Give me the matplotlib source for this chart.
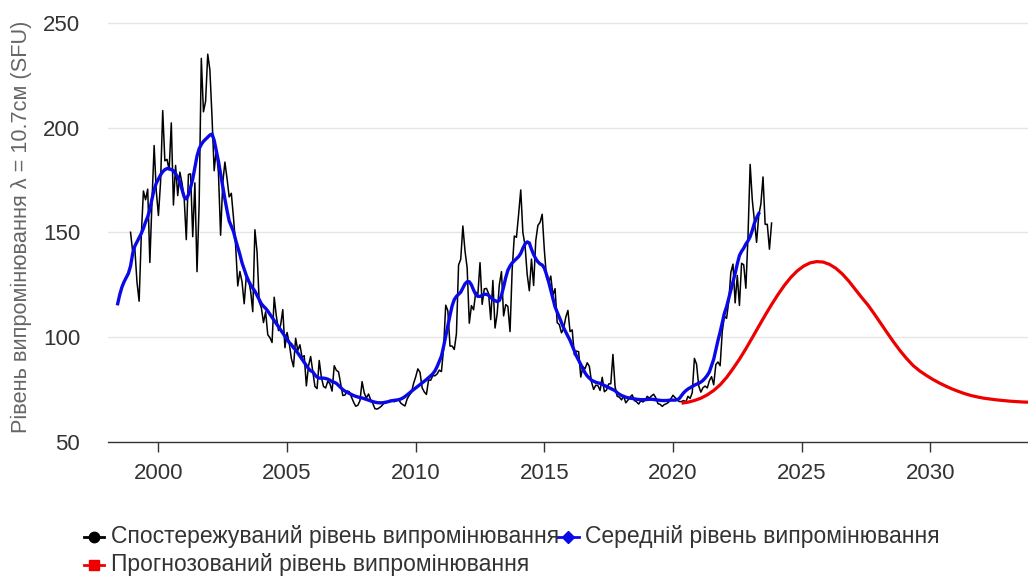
import numpy as np
import matplotlib
matplotlib.use("Agg")
import matplotlib.pyplot as plt
from matplotlib.lines import Line2D

plt.rcParams['font.family'] = ['Liberation Sans', 'DejaVu Sans']

# Observed monthly F10.7 flux, Dec 1998 .. Nov 2023
observed_start = 1998 + 11 / 12
observed = [
    150.1,
    140.6, 142.2, 126.3, 117.2, 148.4, 169.8, 165.6, 170.7, 135.7, 164.8, 191.5, 169.8,
    158.1, 174.1, 208.2, 184.2, 184.9, 179.8, 202.3, 163.1, 182.0, 167.6, 178.8, 173.6,
    166.6, 146.6, 177.7, 178.0, 148.0, 173.7, 131.3, 163.8, 233.1, 207.6, 212.6, 235.1,
    227.6, 205.0, 179.5, 189.8, 178.4, 148.7, 173.5, 183.6, 175.8, 167.0, 168.7, 157.2,
    144.0, 124.5, 131.4, 126.4, 116.0, 129.3, 127.7, 122.1, 112.2, 151.3, 140.8, 116.9,
    114.1, 107.0, 112.1, 101.2, 99.8, 97.5, 119.1, 110.1, 103.2, 105.8, 113.2, 95.0,
    102.3, 97.2, 89.9, 85.9, 99.5, 93.7, 96.4, 90.4, 91.2, 76.8, 86.3, 90.8,
    83.5, 76.5, 75.5, 88.9, 80.9, 76.5, 75.8, 79.0, 77.8, 74.3, 86.4, 84.2,
    83.5, 77.7, 72.2, 72.4, 74.4, 74.0, 71.6, 69.1, 67.1, 67.5, 69.7, 78.8,
    73.4, 71.0, 72.9, 70.2, 68.4, 65.9, 65.7, 66.3, 67.1, 68.3, 68.6, 69.2,
    69.8, 70.0, 69.2, 69.7, 70.5, 68.6, 67.8, 67.2, 70.5, 72.3, 73.6, 77.9,
    81.1, 84.9, 83.3, 75.9, 73.9, 72.7, 79.6, 79.5, 81.7, 81.6, 82.5, 84.3,
    83.6, 94.5, 115.3, 112.6, 95.8, 95.8, 94.2, 101.7, 134.5, 137.2, 153.1, 141.2,
    133.1, 106.7, 115.1, 113.1, 121.5, 120.5, 135.6, 115.7, 123.1, 123.3, 120.9, 108.4,
    127.1, 104.4, 111.2, 125.0, 131.3, 110.2, 115.6, 114.7, 102.7, 132.3, 148.3, 147.7,
    158.6, 170.3, 149.9, 143.9, 130.0, 122.2, 137.3, 124.7, 146.1, 153.4, 154.8, 158.7,
    141.7, 128.8, 125.9, 129.2, 120.1, 123.2, 107.0, 106.0, 102.1, 104.1, 109.6, 112.8,
    102.7, 103.5, 91.6, 93.4, 93.1, 81.0, 85.9, 85.0, 87.8, 86.1, 78.7, 75.1,
    77.1, 76.9, 74.6, 80.9, 74.0, 74.8, 77.7, 77.8, 91.8, 76.4, 71.8, 71.4,
    70.1, 71.9, 68.7, 70.0, 71.5, 72.5, 69.8, 69.2, 68.1, 69.7, 69.1, 70.0,
    71.8, 70.9, 72.0, 72.8, 71.1, 68.3, 68.0, 67.0, 67.9, 68.3, 69.0, 70.6,
    72.3, 71.2, 70.1, 69.3, 69.3, 69.8, 69.1, 71.8, 70.8, 73.6, 89.9, 87.2,
    76.8, 73.8, 75.9, 76.7, 75.8, 79.3, 81.2, 77.3, 87.0, 88.2, 86.4, 102.8,
    110.0, 109.0, 117.0, 131.0, 134.9, 116.4, 129.5, 115.2, 135.3, 134.6, 123.4, 148.4,
    182.5, 165.5, 155.4, 145.3, 158.0, 163.6, 176.5, 153.9, 153.9, 142.0, 154.5,
]

# 13-month smoothed F10.7, Jun 1998 .. May 2023
smoothed_start = 1998 + 5 / 12
smoothed = [
    116.0, 120.5, 124.0, 126.5, 128.5, 130.5, 134.0,
    140.0, 143.5, 145.5, 147.5, 149.5, 152.0, 155.0, 157.5, 161.0, 166.0, 170.5, 173.5,
    175.5, 177.5, 179.0, 180.0, 180.5, 180.5, 180.0, 179.5, 178.0, 176.5, 174.0, 170.5,
    167.0, 166.0, 168.0, 171.5, 175.5, 181.0, 186.5, 190.0, 192.0, 193.5, 194.5, 195.5,
    196.5, 197.0, 194.0, 189.0, 184.0, 178.0, 172.0, 166.0, 160.5, 155.5, 153.0, 150.5,
    146.5, 143.0, 139.5, 135.5, 132.5, 129.5, 127.0, 125.0, 123.5, 122.0, 120.0, 118.0,
    116.0, 114.8, 113.8, 112.5, 111.0, 109.5, 108.0, 106.5, 105.0, 103.5, 102.0, 100.5,
    99.0, 97.5, 96.5, 95.0, 94.0, 92.5, 91.0, 89.5, 88.0, 86.5, 85.0, 84.0,
    83.5, 82.0, 81.0, 80.5, 80.5, 80.5, 80.3, 80.0, 79.5, 78.8, 78.5, 78.0,
    77.0, 76.0, 75.0, 74.3, 73.7, 73.2, 72.7, 72.2, 71.8, 71.5, 71.2, 71.0,
    70.7, 70.3, 70.0, 69.6, 69.3, 69.0, 68.8, 68.7, 68.7, 68.8, 69.0, 69.2,
    69.5, 69.7, 69.9, 70.0, 70.2, 70.5, 71.0, 71.7, 72.5, 73.3, 74.2, 75.0,
    75.8, 76.6, 77.4, 78.2, 79.0, 79.8, 80.7, 81.6, 82.6, 84.0, 86.0, 88.5,
    91.0, 95.5, 100.5, 105.5, 110.5, 115.0, 118.0, 119.5, 120.5, 121.5, 123.5, 125.5,
    126.5, 126.5, 125.0, 122.5, 120.5, 119.5, 119.5, 120.0, 120.5, 120.5, 120.0, 119.0,
    118.0, 117.5, 117.0, 117.5, 120.0, 124.0, 128.5, 132.0, 134.0, 135.5, 136.5, 137.5,
    138.5, 140.0, 142.5, 144.5, 145.5, 145.0, 142.0, 139.5, 137.5, 136.0, 135.0, 134.5,
    133.0, 130.0, 126.5, 122.5, 118.5, 114.5, 112.0, 109.5, 107.0, 104.5, 102.5, 100.5,
    98.5, 96.0, 93.5, 91.0, 89.0, 87.0, 85.0, 83.0, 81.5, 80.5, 79.5, 79.0,
    78.5, 78.2, 78.0, 77.5, 77.0, 76.5, 76.0, 75.5, 75.0, 74.5, 73.5, 72.8,
    72.2, 71.8, 71.4, 71.1, 70.9, 70.8, 70.6, 70.4, 70.3, 70.2, 70.2, 70.2,
    70.3, 70.4, 70.4, 70.3, 70.1, 70.0, 69.9, 69.8, 69.8, 69.8, 69.9, 70.0,
    70.0, 70.0, 70.2, 70.8, 72.2, 73.5, 74.5, 75.3, 75.9, 76.5, 77.1, 77.6,
    78.0, 78.6, 79.4, 80.5, 81.8, 83.5, 86.5, 89.5, 94.0, 98.5, 102.5, 107.0,
    111.5, 114.5, 118.5, 122.5, 126.5, 130.5, 135.0, 139.0, 141.0, 142.5, 144.5, 146.0,
    148.0, 151.0, 154.5, 157.0, 159.0,
]

# Predicted F10.7, quarterly from May 2020
predicted_start = 2020 + 4 / 12
predicted = [
    68.5, 69.0, 69.8, 70.9, 72.5, 74.6, 77.3, 80.8, 85.0, 89.5, 94.5, 99.8,
    105.2, 110.5, 115.6, 120.4, 124.8, 128.6, 131.7, 134.0, 135.5, 136.1, 135.9, 134.8,
    132.9, 130.2, 126.8, 122.9, 119.0, 115.3, 111.0, 106.5, 102.0, 97.6, 93.5, 89.8,
    86.5, 84.0, 81.9, 80.0, 78.3, 76.8, 75.4, 74.2, 73.1, 72.2, 71.5, 70.9,
    70.5, 70.1, 69.8, 69.5, 69.3, 69.1, 69.0, 68.9,
]

y_ticks = [50, 100, 150, 200, 250]
x_ticks = [2000, 2005, 2010, 2015, 2020, 2025, 2030]

labels = [
    "Спостережуваний рівень випромінювання",
    "Середній рівень випромінювання",
    "Прогнозований рівень випромінювання",
]
y_label = "Рівень випромінювання λ = 10.7см (SFU)"

t_obs = observed_start + np.arange(len(observed)) / 12
t_smooth = smoothed_start + np.arange(len(smoothed)) / 12
t_pred = predicted_start + np.arange(len(predicted)) / 4

black = "#000000"
blue = "#0a0ae8"
red = "#ee0000"

W, H = 1028, 581
fig = plt.figure(figsize=(W / 100, H / 100), dpi=100)
ax = fig.add_axes([108 / W, 1 - 442 / H, 1 - 108 / W, (442 - 12.5) / H])

ax.plot(t_obs, observed, color=black, lw=1.1, zorder=3)
ax.plot(t_pred, predicted, color=red, lw=2.3, zorder=3, solid_capstyle="butt")
ax.plot(t_smooth, smoothed, color=blue, lw=2.4, zorder=4)

ax.set_xlim(1998.04, 2033.8)
ax.set_ylim(50, 255)
ax.set_yticks(y_ticks)
ax.set_xticks(x_ticks)
ax.set_xticklabels([str(v) for v in x_ticks])

ax.grid(axis="y", color="#e6e6e6", lw=1.0)
ax.set_axisbelow(True)
for side in ("top", "right", "left"):
    ax.spines[side].set_visible(False)
ax.spines["bottom"].set_color("#333333")
ax.spines["bottom"].set_linewidth(1.0)
ax.tick_params(axis="y", length=0, labelsize=16, labelcolor="#333333", pad=20)
ax.tick_params(axis="x", length=7, width=1, color="#333333", labelsize=16,
               labelcolor="#333333", pad=8)
ax.set_ylabel(y_label, fontsize=15.7, color="#666666", labelpad=8)

# legend drawn in figure coordinates
def legend_item(x0, x1, y, color, marker, ms, text_x, text):
    yy = 1 - y / H
    fig.add_artist(Line2D([x0 / W, (x0 + x1) / 2 / W, x1 / W], [yy, yy, yy],
                          transform=fig.transFigure, color=color, lw=2,
                          marker=marker, markevery=[1], markersize=ms,
                          markerfacecolor=color, markeredgecolor=color))
    fig.text(text_x / W, yy, text, fontsize=16.5, color="#333333",
             va="center", ha="left")

legend_item(84, 104, 537, black, "o", 7.5, 111, labels[0])
legend_item(557, 579, 537, blue, "D", 6.5, 585, labels[1])
legend_item(84, 104, 565, red, "s", 7.5, 111, labels[2])

fig.savefig("out.png", dpi=100)
